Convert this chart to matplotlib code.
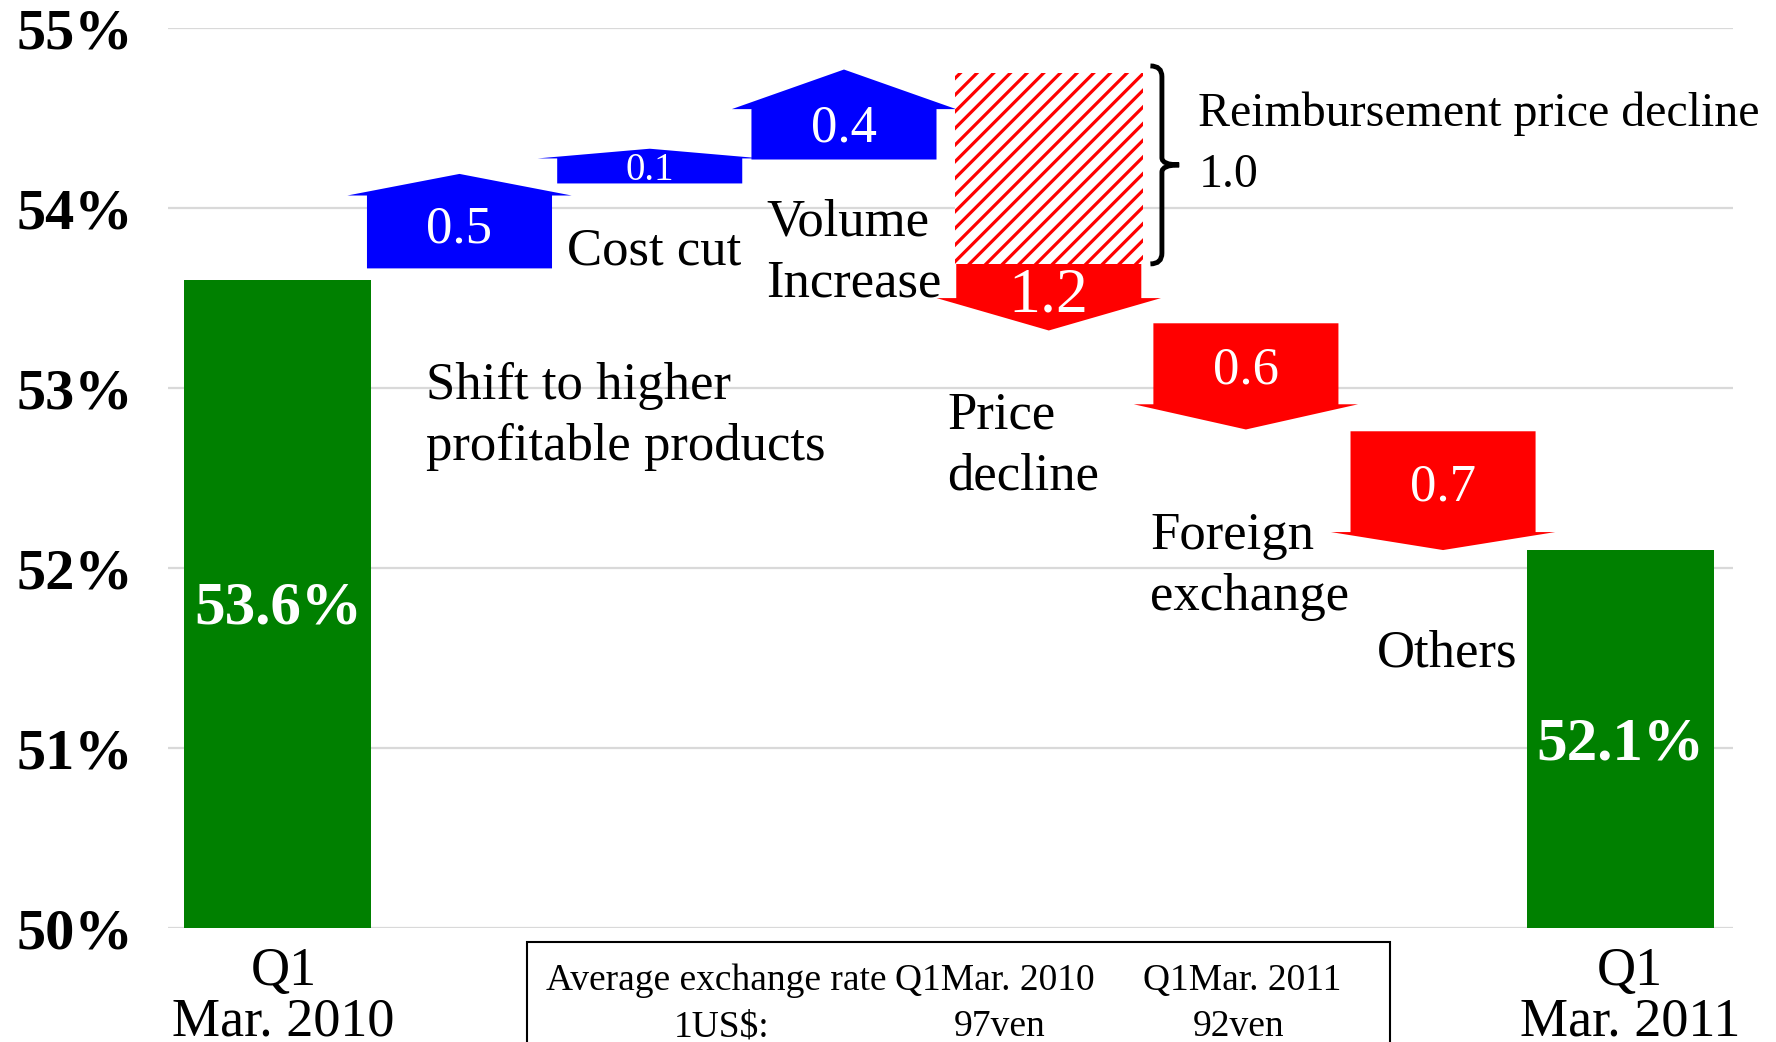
import matplotlib
matplotlib.use("Agg")
import matplotlib.pyplot as plt
from matplotlib.patches import Rectangle, PathPatch
from matplotlib.path import Path

plt.rcParams['font.family'] = ['Liberation Serif', 'DejaVu Serif']
plt.rcParams['hatch.linewidth'] = 2.3

# data
start_value = 53.6
end_value = 52.1
step_values = [0.5, 0.1, 0.4, -1.2, -0.6, -0.7]
step_labels = ['0.5', '0.1', '0.4', '1.2', '0.6', '0.7']
# arrow tail / tip on the y scale (%)
arrow_tail = [53.665, 54.137, 54.27, 53.69, 53.36, 52.76]
arrow_tip = [54.19, 54.33, 54.77, 53.32, 52.77, 52.10]
arrow_head = [0.12, 0.054, 0.22, 0.18, 0.14, 0.10]
reimb_value = 1.0
reimb_bottom = 53.69
reimb_top = 54.75
step_names = ['Shift to higher\nprofitable products', 'Cost cut', 'Volume\nIncrease',
              'Price\ndecline', 'Foreign\nexchange', 'Others']
end_labels = ['Q1\nMar. 2010', 'Q1\nMar. 2011']
yticks = [50, 51, 52, 53, 54, 55]
rate_header = ['Average exchange rate', 'Q1Mar. 2010', 'Q1Mar. 2011']
rate_row = ['1US$:', '97ven', '92ven']

fig = plt.figure(figsize=(17.76, 10.42), dpi=100)
ax = fig.add_axes([0.0946, 0.1094, 0.976 - 0.0946, 0.973 - 0.1094])
ax.set_xlim(-0.573, 7.59)
ax.set_ylim(50, 55)

for y in yticks:
    ax.axhline(y, color='#d9d9d9', linewidth=1.6, zorder=0)
for s in ax.spines.values():
    s.set_visible(False)

# start / end bars
ax.bar([0, 7], [start_value - 50, end_value - 50], bottom=50, width=0.975,
       color='#008000', zorder=2)
ax.text(0, 51.776, f'{start_value}%', color='white', fontsize=44,
        fontweight='bold', ha='center', va='center', zorder=3)
ax.text(7, 51.02, f'{end_value}%', color='white', fontsize=44,
        fontweight='bold', ha='center', va='center', zorder=3)

# arrows (x positions slightly off the category grid, as in the original)
step_pos = [0.947, 1.939, 2.952, 4.02, 5.048, 6.076]
body_w = 0.965
head_w = 1.17
label_y = [53.88, 54.21, 54.44, 53.51, 53.10, 52.45]
label_fs = [38, 28, 38, 46, 38, 38]
for i, v in enumerate(step_values):
    x = step_pos[i]
    tail, tip, hl = arrow_tail[i], arrow_tip[i], arrow_head[i]
    sgn = 1 if v > 0 else -1
    shoulder = tip - sgn * hl
    col = '#0000ff' if v > 0 else '#ff0000'
    xs = [x - body_w / 2, x + body_w / 2, x + body_w / 2, x + head_w / 2, x,
          x - head_w / 2, x - body_w / 2]
    ys = [tail, tail, shoulder, shoulder, tip, shoulder, shoulder]
    ax.fill(xs, ys, color=col, linewidth=0, zorder=2)
    ax.text(x, label_y[i], step_labels[i], color='white', fontsize=label_fs[i],
            ha='center', va='center', zorder=4)

# hatched reimbursement block
ax.add_patch(Rectangle((step_pos[3] - 0.49, reimb_bottom), 0.98, reimb_top - reimb_bottom,
                       facecolor='white', edgecolor='#ff0000', hatch='//',
                       linewidth=0, zorder=2))

# brace
bx0, bx1, bx2 = 4.55, 4.61, 4.70
yt, yb = 54.79, 53.69
ym = (yt + yb) / 2
verts = [(bx0, yt), (bx1, yt), (bx1, yt - 0.06),
         (bx1, ym + 0.04), (bx1, ym), (bx2, ym),
         (bx1, ym), (bx1, ym - 0.04),
         (bx1, yb + 0.06), (bx1, yb), (bx0, yb)]
codes = [Path.MOVETO, Path.CURVE3, Path.CURVE3,
         Path.LINETO, Path.CURVE3, Path.CURVE3,
         Path.CURVE3, Path.CURVE3,
         Path.LINETO, Path.CURVE3, Path.CURVE3]
ax.add_patch(PathPatch(Path(verts, codes), facecolor='none', edgecolor='black',
                       linewidth=3.5, zorder=3))
ax.text(4.80, 54.355, f'Reimbursement price decline\n{reimb_value:.1f}', fontsize=34.5,
        ha='left', va='center', linespacing=1.5, zorder=3, clip_on=False)

# step names
name_pos = [(0.774, 52.84), (1.51, 53.76), (2.546, 53.753),
            (3.49, 52.676), (4.548, 52.009), (5.73, 51.524)]
for (x, y), t in zip(name_pos, step_names):
    ax.text(x, y, t, fontsize=38, ha='left', va='center', linespacing=1.35, zorder=3)

# axis ticks
ax.set_yticks(yticks)
ax.set_yticklabels([f'{y}%' for y in yticks], fontsize=42, fontweight='bold')
ax.set_xticks([0.03, 7.05])
ax.set_xticklabels(end_labels, fontsize=39, linespacing=1.0)
ax.tick_params(axis='both', length=0)
ax.tick_params(axis='y', pad=25)
ax.tick_params(axis='x', pad=13)

# exchange rate box
fig.patches.append(Rectangle((527 / 1776, -0.05), (1390 - 527) / 1776, 0.05 + 0.0957,
                             transform=fig.transFigure, facecolor='none',
                             edgecolor='black', linewidth=1.5))
for t, xl in zip(rate_header, [546, 895, 1143]):
    fig.text(xl / 1776, 1 - 981 / 1042, t, fontsize=27, ha='left', va='center')
for t, xl in zip(rate_row, [674, 954, 1193]):
    fig.text(xl / 1776, 1 - 1027 / 1042, t, fontsize=27, ha='left', va='center')

fig.savefig('out.png', dpi=100)
